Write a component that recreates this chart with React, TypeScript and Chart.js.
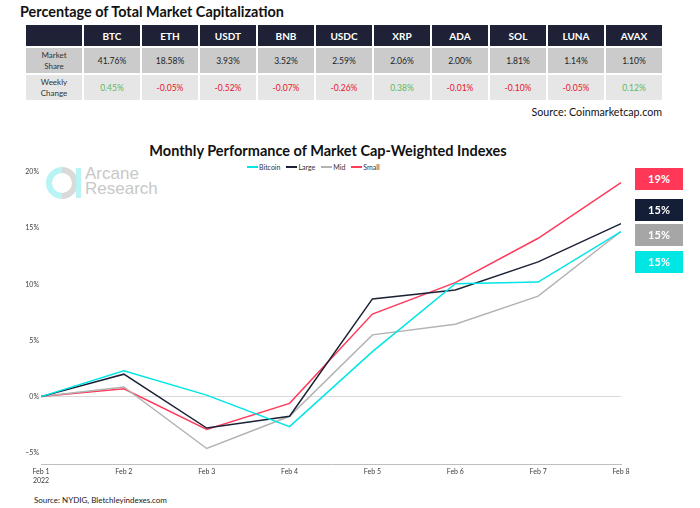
import React, { useEffect, useRef } from "react";
import { Chart, registerables } from "chart.js";

Chart.register(...registerables);

// ---- Table data ----
const tableCoins = ["BTC", "ETH", "USDT", "BNB", "USDC", "XRP", "ADA", "SOL", "LUNA", "AVAX"];
const marketShare = [41.76, 18.58, 3.93, 3.52, 2.59, 2.06, 2.0, 1.81, 1.14, 1.1];
const weeklyChange = [0.45, -0.05, -0.52, -0.07, -0.26, 0.38, -0.01, -0.1, -0.05, 0.12];

// ---- Chart data ----
const dates = ["Feb 1", "Feb 2", "Feb 3", "Feb 4", "Feb 5", "Feb 6", "Feb 7", "Feb 8"];
const yearLabel = "2022";
const bitcoin = [0, 2.3, 0.13, -2.67, 4.0, 10.05, 10.2, 14.7];
const large = [0, 2.0, -2.8, -1.75, 8.7, 9.5, 12.0, 15.4];
const mid = [0, 0.86, -4.62, -1.75, 5.5, 6.45, 8.95, 14.7];
const small = [0, 0.7, -2.93, -0.6, 7.35, 10.15, 14.1, 19.05];
const yTicks = [-5, 0, 5, 10, 15, 20];

const series = [
  { name: "Bitcoin", data: bitcoin, color: "#00e5e5" },
  { name: "Large", data: large, color: "#1c2236" },
  { name: "Mid", data: mid, color: "#b3b3b3" },
  { name: "Small", data: small, color: "#ff3b5c" },
];
const endBoxOrder = ["Small", "Large", "Mid", "Bitcoin"];
const endBoxColors: Record<string, string> = {
  Small: "#ff3858",
  Large: "#141e36",
  Mid: "#a6a6a6",
  Bitcoin: "#00e6e2",
};

const FONT = "Lato, 'Open Sans', sans-serif";

function PerfChart() {
  const ref = useRef<HTMLCanvasElement | null>(null);
  useEffect(() => {
    if (!ref.current) return;
    const labels = dates.map((d, i) => (i === 0 ? [d, yearLabel] : d));
    const chart = new Chart(ref.current, {
      type: "line",
      data: {
        labels: labels as any,
        datasets: series.map((s) => ({
          label: s.name,
          data: s.data,
          borderColor: s.color,
          backgroundColor: s.color,
          borderWidth: 1.5,
          pointRadius: 0,
          tension: 0,
          fill: false,
        })),
      },
      options: {
        animation: false,
        responsive: false,
        maintainAspectRatio: false,
        layout: { padding: { top: 12, right: 19, left: 0, bottom: 0 } },
        plugins: {
          legend: { display: false },
          title: { display: false },
          tooltip: { enabled: false },
        },
        scales: {
          x: {
            offset: false,
            grid: { display: false, drawTicks: false },
            border: { display: true, color: "#bfbfbf", width: 1 },
            ticks: {
              color: "#404040",
              font: { family: FONT, size: 7 },
              padding: 4,
              maxRotation: 0,
              autoSkip: false,
            },
            afterFit: (scale: any) => {
              scale.height = 26;
            },
          },
          y: {
            min: -6,
            max: 20,
            afterBuildTicks: (scale: any) => {
              scale.ticks = yTicks.map((v) => ({ value: v }));
            },
            afterFit: (scale: any) => {
              scale.width = 41;
            },
            grid: {
              color: (ctx: any) => (ctx.tick && ctx.tick.value === 0 ? "#d9d9d9" : "rgba(0,0,0,0)"),
              drawTicks: false,
            },
            border: { display: false },
            ticks: {
              color: "#404040",
              font: { family: FONT, size: 7 },
              padding: 2,
              callback: (v: any) => (Number(v) < 0 ? "\u2212" + Math.abs(Number(v)) : v) + "%",
            },
          },
        },
      },
    });
    return () => chart.destroy();
  }, []);
  return (
    <canvas
      ref={ref}
      width={640}
      height={330}
      style={{ position: "absolute", left: 0, top: 160, width: 640, height: 330 }}
    />
  );
}

function fmt(v: number) {
  return v.toFixed(2) + "%";
}

export default function App() {
  const cellBase: React.CSSProperties = {
    width: 56,
    padding: 0,
    textAlign: "center",
    verticalAlign: "middle",
    fontFamily: FONT,
  };
  return (
    <div
      style={{
        position: "absolute",
        left: 0,
        top: 0,
        width: 700,
        height: 508,
        background: "#ffffff",
        overflow: "hidden",
        fontFamily: FONT,
      }}
    >
      <div
        style={{
          position: "absolute",
          left: 20,
          top: 3,
          fontSize: 14.4,
          fontWeight: 700,
          color: "#111",
          whiteSpace: "nowrap",
        }}
      >
        Percentage of Total Market Capitalization
      </div>
      <table
        style={{
          position: "absolute",
          left: 24,
          top: 23,
          borderCollapse: "separate",
          borderSpacing: 2,
        }}
      >
        <tbody>
          <tr style={{ height: 21 }}>
            <td style={{ ...cellBase, background: "#1f2236" }}></td>
            {tableCoins.map((c) => (
              <td
                key={c}
                style={{ ...cellBase, background: "#1f2236", color: "#fff", fontWeight: 700, fontSize: 10 }}
              >
                {c}
              </td>
            ))}
          </tr>
          <tr style={{ height: 25 }}>
            <td style={{ ...cellBase, background: "#cbcbcb", color: "#333", fontSize: 8, lineHeight: "11px" }}>
              Market
              <br />
              Share
            </td>
            {marketShare.map((v, i) => (
              <td key={i} style={{ ...cellBase, background: "#cbcbcb", color: "#222", fontSize: 8.5 }}>
                {fmt(v)}
              </td>
            ))}
          </tr>
          <tr style={{ height: 25 }}>
            <td style={{ ...cellBase, background: "#e6e6e6", color: "#333", fontSize: 8, lineHeight: "11px" }}>
              Weekly
              <br />
              Change
            </td>
            {weeklyChange.map((v, i) => (
              <td
                key={i}
                style={{
                  ...cellBase,
                  background: "#e6e6e6",
                  color: v >= 0 ? "#5cb85c" : "#e8112d",
                  fontSize: 8.5,
                }}
              >
                {fmt(v)}
              </td>
            ))}
          </tr>
        </tbody>
      </table>
      <div
        style={{
          position: "absolute",
          right: 38,
          top: 105,
          fontSize: 10.7,
          color: "#111",
          whiteSpace: "nowrap",
        }}
      >
        Source: Coinmarketcap.com
      </div>

      <div
        style={{
          position: "absolute",
          left: 0,
          width: 656,
          top: 142,
          textAlign: "center",
          fontSize: 14.5,
          fontWeight: 700,
          color: "#111",
          whiteSpace: "nowrap",
        }}
      >
        Monthly Performance of Market Cap-Weighted Indexes
      </div>

      {/* watermark logo */}
      <svg
        width={40}
        height={36}
        style={{ position: "absolute", left: 46, top: 165 }}
        viewBox="0 0 40 36"
      >
        <path d="M16 5 A13 13 0 0 0 16 31" fill="none" stroke="#b8f4f4" strokeWidth={6} />
        <path d="M16 5 A13 13 0 0 1 16 31" fill="none" stroke="#d9d9d9" strokeWidth={6} />
        <rect x={30} y={3} width={5} height={30} fill="#b8f4f4" />
      </svg>
      <div
        style={{
          position: "absolute",
          left: 85,
          top: 166,
          fontFamily: "'Liberation Sans', Arial, sans-serif",
          fontSize: 17,
          lineHeight: "15px",
          color: "#c8c8c8",
        }}
      >
        Arcane
        <br />
        Research
      </div>

      {/* legend */}
      <div
        style={{
          position: "absolute",
          left: 247,
          top: 163,
          display: "flex",
          alignItems: "center",
          fontSize: 7,
          color: "#333",
          whiteSpace: "nowrap",
        }}
      >
        {series.map((s) => (
          <div key={s.name} style={{ display: "flex", alignItems: "center", marginRight: 6 }}>
            <div style={{ width: 11, height: 2, background: s.color, marginRight: 1 }} />
            <span>{s.name}</span>
          </div>
        ))}
      </div>

      <PerfChart />

      {/* end value boxes */}
      {endBoxOrder.map((name, i) => {
        const s = series.find((x) => x.name === name)!;
        const tops = [168, 199, 224, 251];
        return (
          <div
            key={name}
            style={{
              position: "absolute",
              left: 635,
              top: tops[i],
              width: 48,
              height: 22,
              background: endBoxColors[name],
              color: "#fff",
              fontWeight: 700,
              fontSize: 11,
              lineHeight: "22px",
              textAlign: "center",
            }}
          >
            {Math.round(s.data[s.data.length - 1])}%
          </div>
        );
      })}

      <div
        style={{
          position: "absolute",
          left: 34,
          top: 495,
          fontSize: 8,
          color: "#222",
          whiteSpace: "nowrap",
        }}
      >
        Source: NYDIG, Bletchleyindexes.com
      </div>
    </div>
  );
}
